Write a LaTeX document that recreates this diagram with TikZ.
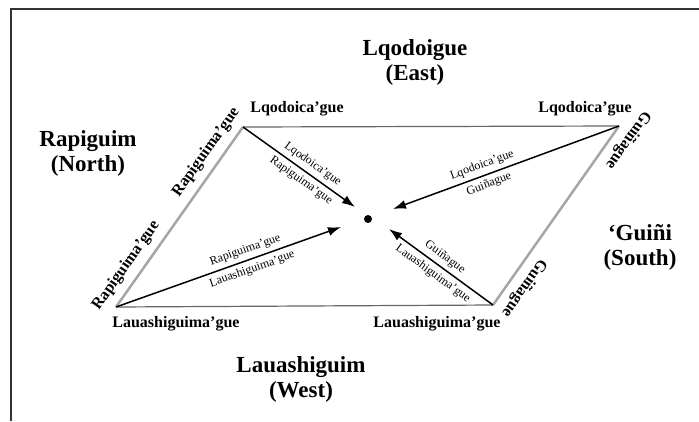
\documentclass[tikz,border=0pt]{standalone}
\usepackage{fontspec}
\setmainfont{Liberation Serif}
\usetikzlibrary{arrows.meta}

\begin{document}
\begin{tikzpicture}[x=1pt,y=-1pt,every text node part/.style={align=center}]
		\tikzstyle{region}=[font=\fontsize{23}{25}\selectfont\bfseries, inner sep=0pt]
		\tikzstyle{corner}=[font=\fontsize{16}{18}\selectfont\bfseries, inner sep=0pt]
		\tikzstyle{side}=[corner, sloped, above=7pt]
		\tikzstyle{tag}=[font=\fontsize{12}{13}\selectfont, inner sep=0pt, sloped]
		\tikzstyle{ray}=[-{Latex[length=13pt,width=9pt]}, line width=1.5pt]

		\useasboundingbox (0,0) rectangle (699,421);

		% frame
		\draw [line width=2pt, black!80] (11,421) -- (11,9) -- (699,9);

		% corners
		\foreach \name/\x/\y in {TL/243/127, TR/619/126, BL/116/307, BR/493/305}
			\coordinate (\name) at (\x,\y);

		% arrow tips
		\foreach \name/\x/\y in {tTL/355/207, tTR/393/209, tBL/341/227, tBR/389/229}
			\coordinate (\name) at (\x,\y);

		% centre
		\node [circle, fill, inner sep=0pt, minimum size=8pt] (O) at (368,219) {};

		% sides
		\draw [line width=1.2pt, draw=black!60] (TL) -- (TR);
		\draw [line width=1.2pt, draw=black!60] (BL) -- (BR);
		\draw [line width=2.5pt, draw=black!35] (BL)
			-- node[side, pos=0.18] {Rapiguima'gue}
			   node[side, pos=0.81] {Rapiguima'gue} (TL);
		\draw [line width=2.5pt, draw=black!35] (TR)
			-- node[side, allow upside down, pos=0.03] {Guiñague}
			   node[side, allow upside down, pos=0.855] {Guiñague} (BR);

		% arrows
		\foreach \from/\to/\p/\up/\down in {TL/tTL/0.57/Lqodoica'gue/Rapiguima'gue,
				TR/tTR/0.59/Lqodoica'gue/Guiñague,
				BL/tBL/0.59/Rapiguima'gue/Lauashiguima'gue,
				BR/tBR/0.52/Guiñague/Lauashiguima'gue}
			\draw [ray] (\from) -- node[tag, above=4pt, pos=\p] {\up}
				node[tag, below=4pt, pos=\p] {\down} (\to);

		% corner names
		\node [corner] (nTL) at (297,109) {Lqodoica'gue};
		\node [corner] (nTR) at (585,109) {Lqodoica'gue};
		\node [corner] (nBL) at (176,324) {Lauashiguima'gue};
		\node [corner] (nBR) at (437,324) {Lauashiguima'gue};

		% regions
		\node [region] (east) at (415,62) {Lqodoigue\\(East)};
		\node [region] (north) at (88,153) {Rapiguim\\(North)};
		\node [region] (south) at (640,247) {`Guiñi\\(South)};
		\node [region] (west) at (301,379) {Lauashiguim\\(West)};

	\end{tikzpicture}
\end{document}
